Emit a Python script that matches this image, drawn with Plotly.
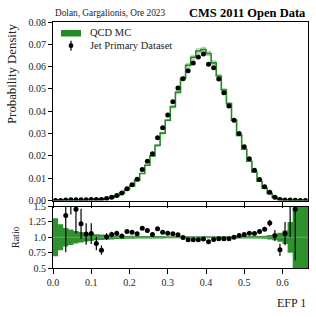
import numpy as np
import plotly.graph_objects as go

# ---------------- data ----------------
n_bins = 50
x_max = 2 / 3
bin_edges = np.linspace(0, x_max, n_bins + 1)

mc_density = [
    0.00012, 0.00015, 0.00020, 0.00022, 0.00025, 0.00030, 0.00035, 0.00042, 0.00050, 0.00062,
    0.00090, 0.00140, 0.00210, 0.00330, 0.00480, 0.00650, 0.00900, 0.01210, 0.01580, 0.02000,
    0.02470, 0.03020, 0.03600, 0.04200, 0.04850, 0.05480, 0.06060, 0.06420, 0.06700, 0.06770,
    0.06590, 0.06170, 0.05580, 0.04950, 0.04340, 0.03600, 0.02920, 0.02300, 0.01760, 0.01280,
    0.00860, 0.00550, 0.00300, 0.00140, 0.00060, 0.00025, 0.00012, 0.00007, 0.00004, 0.00003,
]

data_density = [
    0.0, 0.0, 0.000271, 0.000385, 0.000364, 0.000366, 0.000368, 0.000445, 0.000450, 0.000490,
    0.000909, 0.001463, 0.002237, 0.003366, 0.005256, 0.007020, 0.009495, 0.013855, 0.017538, 0.020900,
    0.028158, 0.032616, 0.038340, 0.044310, 0.050440, 0.054526, 0.058176, 0.061632, 0.064320, 0.065669,
    0.061089, 0.059540, 0.054405, 0.048263, 0.042315, 0.036000, 0.029988, 0.024035, 0.018744, 0.013568,
    0.009417, 0.006215, 0.003690, 0.001438, 0.000477, 0.000265, 0.000204, 0.000102, 0.0, 0.0,
]

# statistical uncertainty of the data, in ratio units
ratio_err = [
    0.0, 0.0, 0.60, 0.38, 0.39, 0.245, 0.175, 0.17, 0.11, 0.075,
    0.055, 0.045, 0.035, 0.028, 0.022, 0.020, 0.017, 0.015, 0.013, 0.012,
    0.011, 0.010, 0.010, 0.010, 0.010, 0.010, 0.010, 0.010, 0.010, 0.010,
    0.010, 0.010, 0.010, 0.010, 0.010, 0.010, 0.011, 0.012, 0.014, 0.016,
    0.020, 0.030, 0.055, 0.090, 0.100, 0.190, 0.700, 0.830, 0.0, 0.0,
]

# relative statistical uncertainty of the MC
mc_rel_err = [
    0.31, 0.21, 0.15, 0.125, 0.10, 0.085, 0.07, 0.06, 0.05, 0.045,
    0.04, 0.035, 0.03, 0.028, 0.026, 0.024, 0.022, 0.021, 0.020, 0.020,
    0.019, 0.019, 0.018, 0.018, 0.018, 0.018, 0.018, 0.018, 0.018, 0.018,
    0.018, 0.018, 0.018, 0.018, 0.018, 0.018, 0.019, 0.019, 0.020, 0.020,
    0.022, 0.026, 0.035, 0.05, 0.075, 0.11, 0.25, 0.55, 0.75, 0.90,
]

x_tick_vals = [0.0, 0.1, 0.2, 0.3, 0.4, 0.5, 0.6]
x_tick_text = ["0.0", "0.1", "0.2", "0.3", "0.4", "0.5", "0.6"]
y_tick_vals = [0.00, 0.01, 0.02, 0.03, 0.04, 0.05, 0.06, 0.07, 0.08]
ratio_tick_vals = [0.5, 0.75, 1.0, 1.25, 1.5]
ratio_tick_text = ["0.5", "0.75", "1.0", "1.25", "1.5"]

# ---------------- derived ----------------
mc = np.array(mc_density)
dat = np.array(data_density)
rerr = np.array(ratio_err)
mrel = np.array(mc_rel_err)
centers = 0.5 * (bin_edges[:-1] + bin_edges[1:])

def step(vals):
    v = list(vals)
    return v + [v[-1]]

ratio = [d / m if d > 0 else None for d, m in zip(dat, mc)]
ratio_e = [e if d > 0 else None for d, e in zip(dat, rerr)]
data_err = rerr * mc

GREEN = "#228B22"
FONT = "Liberation Serif"

fig = go.Figure()

# top panel: MC band + step
fig.add_trace(go.Scatter(x=bin_edges, y=step(mc * (1 - mrel)), mode="lines",
                         line=dict(width=0, shape="hv"), showlegend=False,
                         hoverinfo="skip", xaxis="x", yaxis="y"))
fig.add_trace(go.Scatter(x=bin_edges, y=step(mc * (1 + mrel)), mode="lines",
                         line=dict(width=0, shape="hv"), fill="tonexty",
                         fillcolor="rgba(34,139,34,0.35)", showlegend=False,
                         hoverinfo="skip", xaxis="x", yaxis="y"))
fig.add_trace(go.Scatter(x=bin_edges, y=step(mc), mode="lines",
                         line=dict(color=GREEN, width=1.6, shape="hv"),
                         name="QCD MC", showlegend=False, xaxis="x", yaxis="y"))
# top panel: data
fig.add_trace(go.Scatter(x=centers, y=dat, mode="markers",
                         marker=dict(color="black", size=5),
                         error_y=dict(type="data", array=data_err, color="black",
                                      thickness=1, width=0),
                         name="Jet Primary Dataset", showlegend=False,
                         xaxis="x", yaxis="y"))

# ratio panel: MC band
fig.add_trace(go.Scatter(x=bin_edges, y=step(1 - mrel), mode="lines",
                         line=dict(width=0, shape="hv"), showlegend=False,
                         hoverinfo="skip", xaxis="x2", yaxis="y2"))
fig.add_trace(go.Scatter(x=bin_edges, y=step(1 + mrel), mode="lines",
                         line=dict(width=0, shape="hv"), fill="tonexty",
                         fillcolor="rgba(34,139,34,0.95)", showlegend=False,
                         hoverinfo="skip", xaxis="x2", yaxis="y2"))
fig.add_trace(go.Scatter(x=[0, x_max], y=[1, 1], mode="lines",
                         line=dict(color="rgba(150,150,150,0.9)", width=1),
                         showlegend=False, hoverinfo="skip", xaxis="x2", yaxis="y2"))
fig.add_trace(go.Scatter(x=centers, y=ratio, mode="markers",
                         marker=dict(color="black", size=5),
                         error_y=dict(type="data", array=ratio_e, color="black",
                                      thickness=1.2, width=0),
                         showlegend=False, xaxis="x2", yaxis="y2"))

# ---------------- layout ----------------
L, R, T, B = 53, 8, 22, 49
W, H = 316, 317
pw, ph = W - L - R, H - T - B

def px_x(p):
    return (p - L) / pw

def px_y(p):
    return (H - B - p) / ph

top_dom = [px_y(200.5), 1.0]
bot_dom = [0.0, px_y(206.5)]

axis_common = dict(showgrid=False, zeroline=False, linecolor="black", linewidth=1,
                   mirror=True, ticks="outside", tickcolor="black", tickwidth=1,
                   tickfont=dict(family=FONT, size=10, color="#222"))

fig.update_layout(
    width=W, height=H,
    margin=dict(l=L, r=R, t=T, b=B, pad=0),
    paper_bgcolor="white", plot_bgcolor="white",
    showlegend=False,
    font=dict(family=FONT, color="#222"),
    xaxis=dict(domain=[0, 1], anchor="y", range=[0, x_max], tickvals=x_tick_vals,
               showticklabels=False, ticklen=6, **axis_common),
    yaxis=dict(domain=top_dom, anchor="x", range=[0, 0.08], tickvals=y_tick_vals,
               tickformat=".2f", ticklen=4, **axis_common),
    xaxis2=dict(domain=[0, 1], anchor="y2", range=[0, x_max], matches="x",
                tickvals=x_tick_vals, ticktext=x_tick_text, ticklen=5, **axis_common),
    yaxis2=dict(domain=bot_dom, anchor="x2", range=[0.5, 1.5], tickvals=ratio_tick_vals,
                ticktext=ratio_tick_text, ticklen=4, **axis_common),
)

ann = [
    dict(text="Dolan, Gargalionis, Ore 2023", x=0, xanchor="left",
         y=px_y(12.5), yanchor="middle", font=dict(size=9.3)),
    dict(text="<b>CMS 2011 Open Data</b>", x=1, xanchor="right",
         y=px_y(12.5), yanchor="middle", font=dict(size=12.5, color="black")),
    dict(text="EFP 1", x=1, xanchor="right", y=px_y(303), yanchor="middle",
         font=dict(size=12)),
    dict(text="Probability Density", x=px_x(12), xanchor="center", y=1.0,
         yanchor="top", textangle=-90, font=dict(size=12.8)),
    dict(text="Ratio", x=px_x(15), xanchor="center", y=px_y(237), yanchor="middle",
         textangle=-90, font=dict(size=10)),
    dict(text="QCD MC", x=px_x(88), xanchor="left", y=px_y(33), yanchor="middle",
         font=dict(size=10.5)),
    dict(text="Jet Primary Dataset", x=px_x(88), xanchor="left", y=px_y(45.7),
         yanchor="middle", font=dict(size=10.5)),
]
for a in ann:
    a.update(xref="paper", yref="paper", showarrow=False)
    a["font"].setdefault("family", FONT)
    a["font"].setdefault("color", "#222")
fig.update_layout(annotations=ann)

shapes = [
    dict(type="rect", xref="paper", yref="paper", x0=px_x(61), x1=px_x(81),
         y0=px_y(36.5), y1=px_y(30), fillcolor=GREEN, line=dict(width=0)),
    dict(type="line", xref="paper", yref="paper", x0=px_x(71), x1=px_x(71),
         y0=px_y(50.7), y1=px_y(40.7), line=dict(color="black", width=1.2)),
    dict(type="circle", xref="paper", yref="paper", xsizemode="pixel", ysizemode="pixel",
         xanchor=px_x(71), yanchor=px_y(45.7), x0=-2.4, x1=2.4, y0=-2.4, y1=2.4,
         fillcolor="black", line=dict(width=0)),
]
fig.update_layout(shapes=shapes)

fig.write_html(
    "out.html",
    config={"displayModeBar": False, "staticPlot": True},
    post_script="document.body.style.margin='0';document.body.style.padding='0';"
                "document.body.style.overflow='hidden';",
)
